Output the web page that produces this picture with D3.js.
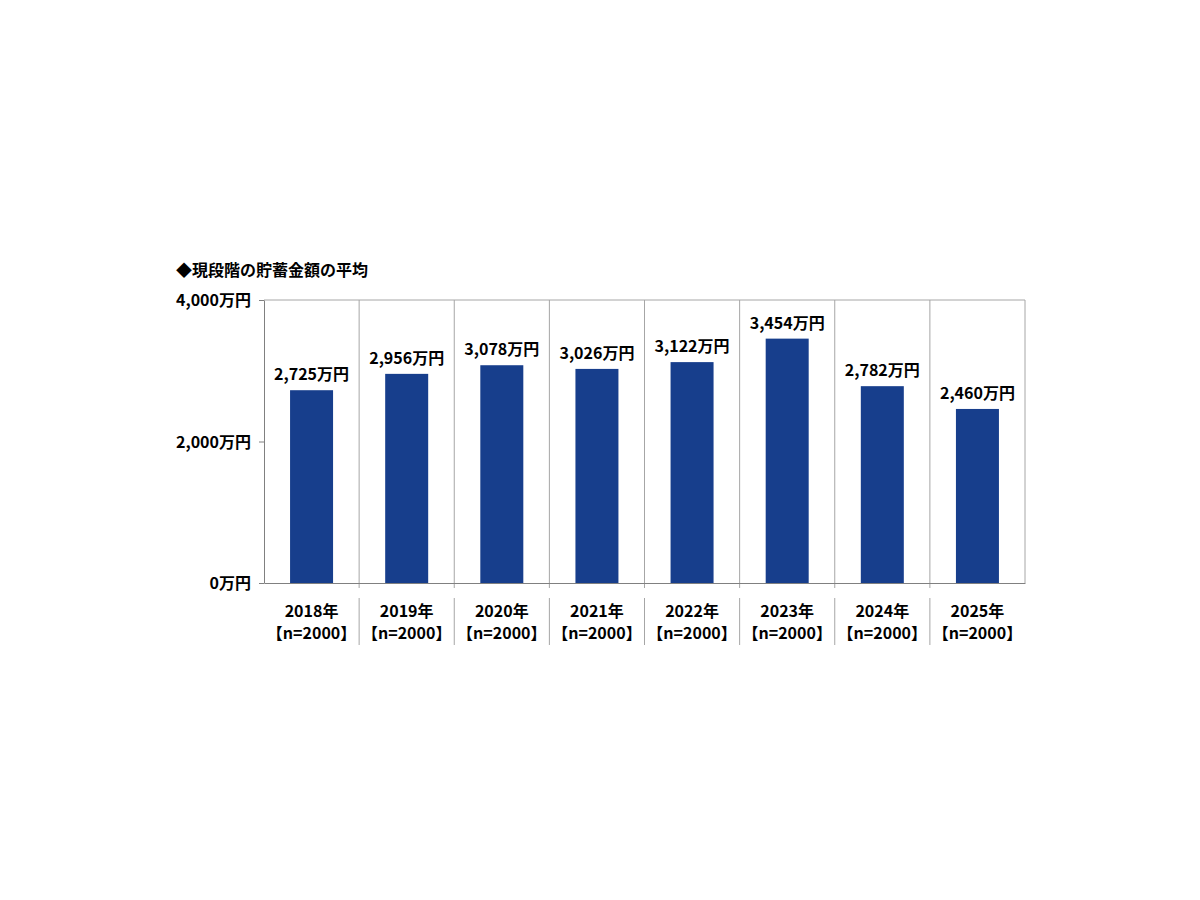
<!DOCTYPE html>
<html>
<head>
<meta charset="utf-8">
<script src="https://cdn.jsdelivr.net/npm/d3@7"></script>
<style>
  body { margin: 0; background: #fff; }
  svg text { font-family: "Noto Sans CJK JP", "Noto Sans", sans-serif; font-weight: bold; fill: #000; }
</style>
</head>
<body>
<svg id="chart" width="1200" height="900"></svg>
<script>
const years = ['2018年', '2019年', '2020年', '2021年', '2022年', '2023年', '2024年', '2025年']
const sampleLabel = '【n=2000】'
const savings = [2725, 2956, 3078, 3026, 3122, 3454, 2782, 2460]
const yTicks = [0, 2000, 4000]

const svg = d3.select('#chart')

const plotLeft = 264, plotRight = 1025, plotTop = 300, plotBottom = 583
const fontSize = 16

const x = d3.scaleBand()
  .domain(years)
  .range([plotLeft, plotRight])
  .paddingInner(0)
  .paddingOuter(0)

const y = d3.scaleLinear()
  .domain([0, 4000])
  .range([plotBottom, plotTop])

const fmt = d3.format(',')

// title
svg.append('text')
  .attr('x', 176)
  .attr('y', 276)
  .attr('font-size', fontSize)
  .text('◆現段階の貯蓄金額の平均')

// frame (top and right)
svg.append('path')
  .attr('d', `M${plotLeft},${plotTop}H${plotRight}V${plotBottom}`)
  .attr('fill', 'none')
  .attr('stroke', '#a6a6a6')
  .attr('stroke-width', 1)

// category separators, inside plot and down through the label area
svg.append('g')
  .selectAll('line')
  .data(years.slice(1))
  .enter()
  .append('line')
  .attr('x1', (d) => x(d))
  .attr('x2', (d) => x(d))
  .attr('y1', plotTop)
  .attr('y2', plotBottom + 5)
  .attr('stroke', '#a6a6a6')

svg.append('g')
  .selectAll('line')
  .data(years.slice(1))
  .enter()
  .append('line')
  .attr('x1', (d) => x(d))
  .attr('x2', (d) => x(d))
  .attr('y1', 598)
  .attr('y2', 645)
  .attr('stroke', '#a6a6a6')

// bars
const barW = 43
svg.append('g')
  .selectAll('rect')
  .data(savings)
  .enter()
  .append('rect')
  .attr('x', (d, i) => x(years[i]) + x.bandwidth() / 2 - barW / 2)
  .attr('y', (d) => y(d))
  .attr('width', barW)
  .attr('height', (d) => y(0) - y(d))
  .attr('fill', '#173e8c')

// value labels
svg.append('g')
  .selectAll('text')
  .data(savings)
  .enter()
  .append('text')
  .attr('x', (d, i) => x(years[i]) + x.bandwidth() / 2)
  .attr('y', (d) => y(d) - 10)
  .attr('text-anchor', 'middle')
  .attr('font-size', fontSize)
  .text((d) => fmt(d) + '万円')

// y axis
const yAxis = svg.append('g')
  .attr('transform', `translate(${plotLeft},0)`)
  .call(d3.axisLeft(y).tickValues(yTicks).tickSize(5).tickSizeOuter(0).tickFormat((d) => fmt(d) + '万円'))
yAxis.select('.domain').attr('stroke', '#808080')
yAxis.selectAll('.tick line').attr('stroke', '#808080')
yAxis.selectAll('.tick text')
  .attr('font-size', fontSize)
  .attr('x', -13)
  .attr('dy', '0.35em')
  .style('font-family', '"Noto Sans CJK JP", sans-serif')
  .style('font-weight', 'bold')
  .attr('fill', '#000')

// x axis baseline
const xAxis = svg.append('g')
  .attr('transform', `translate(0,${plotBottom})`)
  .call(d3.axisBottom(x).tickSize(0).tickFormat(''))
xAxis.select('.domain').attr('stroke', '#808080')

// category labels
const catLabels = svg.append('g')
  .selectAll('text')
  .data(years)
  .enter()
  .append('text')
  .attr('x', (d) => x(d) + x.bandwidth() / 2)
  .attr('text-anchor', 'middle')
  .attr('font-size', fontSize)

catLabels.append('tspan')
  .attr('x', (d) => x(d) + x.bandwidth() / 2)
  .attr('y', 617)
  .text((d) => d)

catLabels.append('tspan')
  .attr('x', (d) => x(d) + x.bandwidth() / 2)
  .attr('y', 639)
  .text(sampleLabel)
</script>
</body>
</html>
